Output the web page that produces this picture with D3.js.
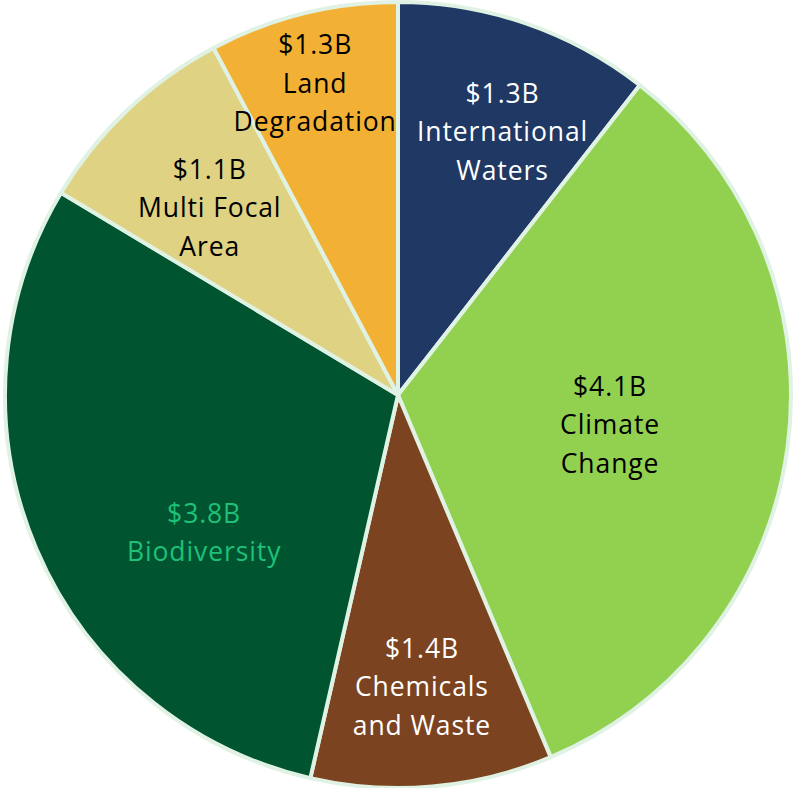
<!DOCTYPE html>
<html>
<head>
<meta charset="utf-8">
<script src="https://cdn.jsdelivr.net/npm/d3@7"></script>
<style>
  html, body { margin: 0; padding: 0; background: #fff; }
  svg { display: block; }
</style>
</head>
<body>
<svg id="chart" width="795" height="788"></svg>
<script>
// focal areas, clockwise from 12 o'clock
var categories = ["International Waters", "Climate Change", "Chemicals and Waste", "Biodiversity", "Multi Focal Area", "Land Degradation"];
var amounts = [1.37, 4.30, 1.29, 3.90, 1.12, 1.01];
// amounts as printed on the labels
var amountLabels = ["$1.3B", "$4.1B", "$1.4B", "$3.8B", "$1.1B", "$1.3B"];
// label text lines under the amount
var nameLines = [["International", "Waters"], ["Climate", "Change"], ["Chemicals", "and Waste"], ["Biodiversity"], ["Multi Focal", "Area"], ["Land", "Degradation"]];

var colors = ["#1f3864", "#92d050", "#7b4320", "#005430", "#dfd282", "#f2b134"];
var textColors = ["#ffffff", "#000000", "#ffffff", "#1fc078", "#000000", "#000000"];
// where labels sit: fraction of radius and small angle nudge (deg)
var labelPos = [[0.72, 2.7], [0.545, 0.5], [0.745, 0.3], [0.605, -12.3], [0.675, -1.7], [0.82, -0.9]];

var svg = d3.select("#chart");
const cx = 398, cy = 395, radius = 393;

var data = categories.map(function(c, i) {
    return {name: c, value: amounts[i], i: i};
});

var pie = d3.pie().sort(null).value(function(d) { return d.value; });
var arc = d3.arc().innerRadius(0).outerRadius(radius);

var g = svg.append("g").attr("transform", "translate(" + cx + "," + cy + ")");

g.selectAll("path")
    .data(pie(data))
    .enter().append("path")
    .attr("d", arc)
    .attr("fill", function(d) { return colors[d.data.i]; })
    .attr("stroke", "#dff2e4")
    .attr("stroke-width", 4)
    .attr("stroke-linejoin", "round");

var lineH = 38.5;

var labels = g.selectAll("text")
    .data(pie(data))
    .enter().append("text")
    .attr("text-anchor", "middle")
    .style("font-family", "'Open Sans', sans-serif")
    .style("font-size", "26.5px")
    .style("letter-spacing", "0.9px")
    .attr("fill", function(d) { return textColors[d.data.i]; })
    .attr("transform", function(d) {
        var p = labelPos[d.data.i];
        var a = (d.startAngle + d.endAngle) / 2 + p[1] * Math.PI / 180;
        var r = radius * p[0];
        return "translate(" + (r * Math.sin(a)) + "," + (-r * Math.cos(a)) + ")";
    });

labels.each(function(d) {
    var lines = [amountLabels[d.data.i]].concat(nameLines[d.data.i]);
    var t = d3.select(this);
    var top = -(lines.length - 1) * lineH / 2;
    lines.forEach(function(l, k) {
        t.append("tspan")
            .attr("x", 0)
            .attr("y", top + k * lineH)
            .attr("dy", "0.35em")
            .text(l);
    });
});
</script>
</body>
</html>
